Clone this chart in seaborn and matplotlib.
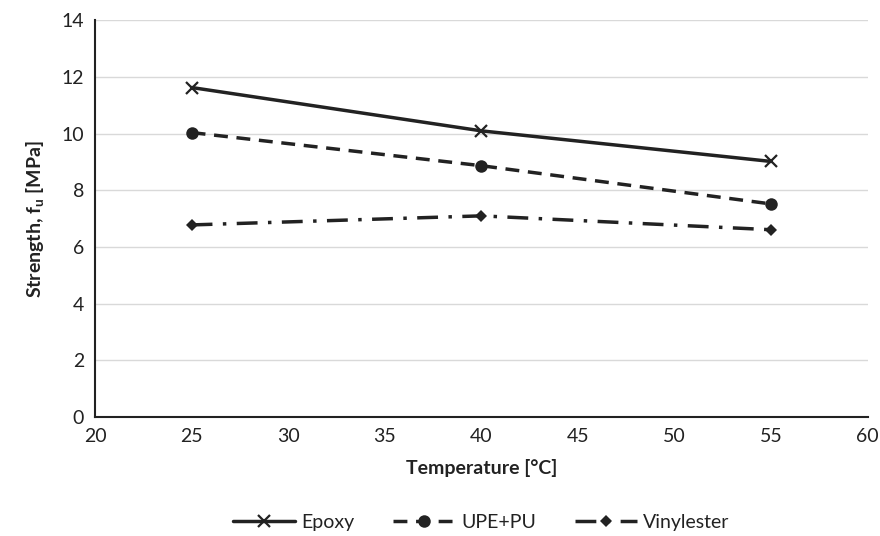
import matplotlib
matplotlib.use("Agg")
import matplotlib.pyplot as plt
import seaborn as sns
import pandas as pd

temperature = [25, 40, 55]
epoxy = [11.63, 10.1, 9.02]
upe_pu = [10.04, 8.87, 7.52]
vinylester = [6.78, 7.1, 6.61]
series_names = ["Epoxy", "UPE+PU", "Vinylester"]

df = pd.DataFrame({
    "Temperature": temperature * 3,
    "Strength": epoxy + upe_pu + vinylester,
    "Series": [series_names[0]] * 3 + [series_names[1]] * 3 + [series_names[2]] * 3,
})

sns.set_theme(style="white")
plt.rcParams['font.family'] = ['Lato', 'DejaVu Sans']

fig, ax = plt.subplots(figsize=(8.8, 5.36), dpi=100)
fig.subplots_adjust(left=0.108, right=0.986, top=0.962, bottom=0.222)

ink = "#222222"
styles = {
    "Epoxy": dict(ls="-", marker="x", ms=9, mew=1.6),
    "UPE+PU": dict(ls=(0, (4, 2.5)), marker="o", ms=9, mew=0),
    "Vinylester": dict(ls=(0, (6, 3, 1, 3)), marker="D", ms=6.5, mew=0),
}
for name in series_names:
    sub = df[df["Series"] == name]
    sns.lineplot(data=sub, x="Temperature", y="Strength", ax=ax, color=ink,
                 lw=2.5, label=name, mec=ink, mfc=ink, **styles[name])

ax.set_xlim(20, 60)
ax.set_ylim(0, 14)
ax.set_xticks(range(20, 61, 5))
ax.set_yticks(range(0, 15, 2))
ax.yaxis.grid(True, color="#d9d9d9", lw=1)
ax.xaxis.grid(False)
for s in ["top", "right"]:
    ax.spines[s].set_visible(False)
for s in ["left", "bottom"]:
    ax.spines[s].set_color(ink)
    ax.spines[s].set_linewidth(1.5)
ax.tick_params(axis="both", length=0, labelsize=14, colors=ink, pad=8)
ax.set_xlabel("Temperature [°C]", fontsize=14, fontweight="bold", color=ink, labelpad=10)
ax.set_ylabel("Strength, f$_\\mathregular{u}$ [MPa]", fontsize=14, fontweight="bold", color=ink, labelpad=10)

leg = ax.legend(loc="upper center", bbox_to_anchor=(0.5, -0.2), ncol=3, frameon=False,
                fontsize=14, handlelength=3.2, columnspacing=2.0, handletextpad=0.3)
for t in leg.get_texts():
    t.set_color(ink)

fig.savefig("out.png", dpi=100)
